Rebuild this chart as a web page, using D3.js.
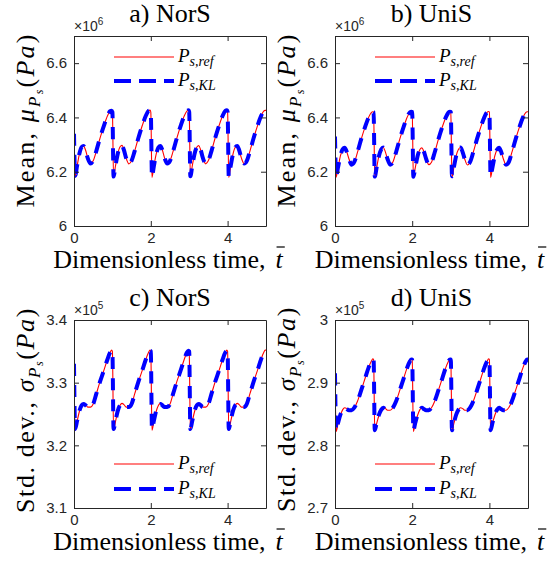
<!DOCTYPE html>
<html><head><meta charset="utf-8">
<script src="https://cdn.jsdelivr.net/npm/d3@7"></script>
<style>body{margin:0;background:#fff}</style>
</head><body>
<svg id="chart" width="556" height="565" style="font-family:'Liberation Serif'"></svg>
<script>
// ---------- data ----------
const timeValues = [
  0,0.03,0.08,0.14,0.2,0.25,0.3,0.36,0.43,0.5,0.58,0.68,0.78,0.87,0.94,0.98,
  1,1.03,1.08,1.14,1.2,1.25,1.3,1.36,1.43,1.5,1.58,1.68,1.78,1.87,1.94,1.98,
  2,2.03,2.08,2.14,2.2,2.25,2.3,2.36,2.43,2.5,2.58,2.68,2.78,2.87,2.94,2.98,
  3,3.03,3.08,3.14,3.2,3.25,3.3,3.36,3.43,3.5,3.58,3.68,3.78,3.87,3.94,3.98,
  4,4.03,4.08,4.14,4.2,4.25,4.3,4.36,4.43,4.5,4.58,4.68,4.78,4.87,4.94,4.98,
  5];

const refMeanNorS = [
  6.34,6.18,6.22,6.265,6.29,6.295,6.28,6.25,6.23,6.24,6.275,6.325,6.37,6.405,6.423,6.426,
  6.42,6.18,6.221,6.266,6.292,6.297,6.281,6.249,6.229,6.24,6.276,6.326,6.371,6.406,6.424,6.427,
  6.42,6.179,6.22,6.265,6.29,6.295,6.28,6.25,6.23,6.24,6.275,6.325,6.37,6.405,6.423,6.426,
  6.42,6.18,6.221,6.266,6.291,6.296,6.28,6.249,6.229,6.241,6.276,6.326,6.371,6.406,6.424,6.427,
  6.42,6.179,6.22,6.265,6.29,6.295,6.28,6.25,6.23,6.24,6.275,6.325,6.37,6.405,6.423,6.426,
  6.426];
const klMeanNorS = [
  6.34,6.185,6.222,6.266,6.291,6.295,6.279,6.249,6.23,6.241,6.276,6.326,6.37,6.405,6.423,6.425,
  6.42,6.182,6.222,6.266,6.292,6.296,6.28,6.249,6.23,6.241,6.276,6.326,6.371,6.406,6.424,6.426,
  6.42,6.181,6.221,6.265,6.29,6.295,6.28,6.25,6.23,6.24,6.275,6.325,6.37,6.405,6.423,6.426,
  6.42,6.183,6.222,6.266,6.291,6.296,6.28,6.249,6.23,6.241,6.276,6.326,6.371,6.406,6.424,6.426,
  6.42,6.184,6.221,6.265,6.29,6.295,6.28,6.25,6.23,6.24,6.275,6.325,6.37,6.405,6.423,6.425,
  6.425];

const refMeanUniS = [
  6.33,6.18,6.215,6.258,6.282,6.288,6.275,6.248,6.226,6.235,6.27,6.32,6.365,6.4,6.418,6.421,
  6.42,6.18,6.216,6.259,6.283,6.289,6.275,6.247,6.225,6.236,6.271,6.321,6.366,6.401,6.419,6.422,
  6.42,6.179,6.215,6.258,6.282,6.288,6.275,6.248,6.226,6.235,6.27,6.32,6.365,6.4,6.418,6.421,
  6.42,6.18,6.216,6.259,6.283,6.289,6.275,6.247,6.225,6.236,6.271,6.321,6.366,6.401,6.419,6.422,
  6.42,6.179,6.215,6.258,6.282,6.288,6.275,6.248,6.226,6.235,6.27,6.32,6.365,6.4,6.418,6.421,
  6.421];
const klMeanUniS = [
  6.33,6.184,6.217,6.259,6.283,6.288,6.275,6.248,6.226,6.236,6.271,6.321,6.365,6.4,6.418,6.421,
  6.42,6.182,6.217,6.259,6.283,6.289,6.275,6.247,6.226,6.236,6.271,6.321,6.366,6.401,6.419,6.421,
  6.42,6.181,6.216,6.258,6.282,6.288,6.275,6.248,6.226,6.235,6.27,6.32,6.365,6.4,6.418,6.421,
  6.42,6.183,6.217,6.259,6.283,6.289,6.275,6.247,6.226,6.236,6.271,6.321,6.366,6.401,6.419,6.421,
  6.42,6.184,6.216,6.258,6.282,6.288,6.275,6.248,6.226,6.235,6.27,6.32,6.365,6.4,6.418,6.42,
  6.42];

const refStdNorS = [
  3.33,3.224,3.238,3.254,3.264,3.267,3.265,3.261,3.261,3.266,3.282,3.302,3.32,3.337,3.348,3.352,
  3.35,3.224,3.238,3.254,3.264,3.267,3.265,3.261,3.261,3.266,3.282,3.302,3.32,3.337,3.348,3.352,
  3.35,3.224,3.238,3.254,3.264,3.267,3.265,3.261,3.261,3.266,3.282,3.302,3.32,3.337,3.348,3.352,
  3.35,3.224,3.238,3.254,3.264,3.267,3.265,3.261,3.261,3.266,3.282,3.302,3.32,3.337,3.348,3.352,
  3.35,3.224,3.238,3.254,3.264,3.267,3.265,3.261,3.261,3.266,3.282,3.302,3.32,3.337,3.348,3.352,
  3.352];
const klStdNorS = [
  3.33,3.226,3.239,3.255,3.264,3.266,3.264,3.261,3.261,3.266,3.282,3.302,3.32,3.337,3.348,3.351,
  3.35,3.226,3.239,3.255,3.264,3.266,3.264,3.261,3.261,3.266,3.282,3.302,3.32,3.337,3.348,3.351,
  3.35,3.226,3.239,3.255,3.264,3.266,3.264,3.261,3.261,3.266,3.282,3.302,3.32,3.337,3.348,3.351,
  3.35,3.226,3.239,3.255,3.264,3.266,3.264,3.261,3.261,3.266,3.282,3.302,3.32,3.337,3.348,3.351,
  3.35,3.226,3.239,3.255,3.264,3.266,3.264,3.261,3.261,3.266,3.282,3.302,3.32,3.337,3.348,3.351,
  3.351];

const refStdUniS = [
  2.915,2.822,2.835,2.848,2.857,2.86,2.859,2.856,2.856,2.86,2.87,2.888,2.907,2.924,2.934,2.938,
  2.937,2.822,2.835,2.848,2.857,2.86,2.859,2.856,2.856,2.86,2.87,2.888,2.907,2.924,2.934,2.938,
  2.937,2.822,2.835,2.848,2.857,2.86,2.859,2.856,2.856,2.86,2.87,2.888,2.907,2.924,2.934,2.938,
  2.937,2.822,2.835,2.848,2.857,2.86,2.859,2.856,2.856,2.86,2.87,2.888,2.907,2.924,2.934,2.938,
  2.937,2.822,2.835,2.848,2.857,2.86,2.859,2.856,2.856,2.86,2.87,2.888,2.907,2.924,2.934,2.938,
  2.938];
const klStdUniS = [
  2.915,2.824,2.836,2.849,2.857,2.86,2.858,2.856,2.856,2.86,2.87,2.888,2.907,2.924,2.934,2.937,
  2.937,2.824,2.836,2.849,2.857,2.86,2.858,2.856,2.856,2.86,2.87,2.888,2.907,2.924,2.934,2.937,
  2.937,2.824,2.836,2.849,2.857,2.86,2.858,2.856,2.856,2.86,2.87,2.888,2.907,2.924,2.934,2.937,
  2.937,2.824,2.836,2.849,2.857,2.86,2.858,2.856,2.856,2.86,2.87,2.888,2.907,2.924,2.934,2.937,
  2.937,2.824,2.836,2.849,2.857,2.86,2.858,2.856,2.856,2.86,2.87,2.888,2.907,2.924,2.934,2.937,
  2.937];

const xTicks = [0, 2, 4];
const yTicksMean = [6, 6.2, 6.4, 6.6];
const yTicksStdNorS = [3.1, 3.2, 3.3, 3.4];
const yTicksStdUniS = [2.7, 2.8, 2.9, 3];
const panelTitles = ["a) NorS", "b) UniS", "c) NorS", "d) UniS"];
const exponents = ["6", "6", "5", "5"];
const legendSubs = ["s,ref", "s,KL"];

// ---------- layout ----------
const SERIF_NAME = "Liberation Serif";
const SANS_NAME = "Liberation Sans";
const axisColor = "#262626";
const serifText = sel => sel.attr("font-family", SERIF_NAME).style("font-family", '"' + SERIF_NAME + '"');
const sansText = sel => sel.attr("font-family", SANS_NAME).style("font-family", '"' + SANS_NAME + '"');

const panels = [
  {box:[74,266,36,226], ydom:[6,6.7], yticks:yTicksMean, ref:refMeanNorS, kl:klMeanNorS,
   title:panelTitles[0], exp:exponents[0], ylab:"mean", legendTop:true, ylabCenter:120},
  {box:[335,528,36,226], ydom:[6,6.7], yticks:yTicksMean, ref:refMeanUniS, kl:klMeanUniS,
   title:panelTitles[1], exp:exponents[1], ylab:"mean", legendTop:true, ylabCenter:120},
  {box:[74,266,320,508], ydom:[3.1,3.4], yticks:yTicksStdNorS, ref:refStdNorS, kl:klStdNorS,
   title:panelTitles[2], exp:exponents[2], ylab:"std", legendTop:false, ylabCenter:410},
  {box:[335,528,320,508], ydom:[2.7,3.0], yticks:yTicksStdUniS, ref:refStdUniS, kl:klStdUniS,
   title:panelTitles[3], exp:exponents[3], ylab:"std", legendTop:false, ylabCenter:409}
];

const svg = d3.select("#chart");

panels.forEach((p, pi) => {
  const [L,R,T,B] = p.box;
  const x = d3.scaleLinear().domain([0,5]).range([L,R]);
  const y = d3.scaleLinear().domain(p.ydom).range([B,T]);

  // title
  svg.append("text").attr("x", (L+R)/2).attr("y", T-14).attr("text-anchor","middle")
    .call(serifText).style("font-size","26px").attr("fill","#000").text(p.title);

  // x label
  const xl = svg.append("text").attr("x", 0).attr("y", B+42)
    .call(serifText).style("font-size","26px").attr("fill","#000").text("Dimensionless time,");
  const wMain = xl.node().getComputedTextLength();
  const xt = svg.append("text").attr("x", 0).attr("y", B+42)
    .call(serifText).style("font-size","26px").style("font-style","italic")
    .attr("fill","#000").text("t");
  const wT = xt.node().getComputedTextLength();
  const gap = 10;
  const xStart = (L+R)/2 - 2 - (wMain + gap + wT)/2;
  xl.attr("x", xStart);
  xt.attr("x", xStart + wMain + gap);
  svg.append("line").attr("x1", xStart + wMain + gap + 1).attr("x2", xStart + wMain + gap + wT + 2)
    .attr("y1", B+21).attr("y2", B+21).attr("stroke","#000").attr("stroke-width",1.2);

  // y label
  const yl = svg.append("text").attr("transform",`translate(${L-40},${p.ylabCenter}) rotate(-90)`)
    .attr("text-anchor","middle").call(serifText).style("font-size","26px").attr("fill","#000");
  yl.append("tspan").text(p.ylab === "mean" ? "Mean, " : "Std. dev., ");
  yl.append("tspan").style("font-style","italic").text(p.ylab === "mean" ? "\u03bc" : "\u03c3");
  yl.append("tspan").style("font-style","italic").style("font-size","17px").attr("dy",6).text("P");
  yl.append("tspan").style("font-style","italic").style("font-size","12px").attr("dy",3).text("s");
  yl.append("tspan").style("font-size","26px").attr("dy",-9).text("(");
  yl.append("tspan").style("font-style","italic").text("Pa");
  yl.append("tspan").text(")");
  yl.attr("letter-spacing", p.ylab === "mean" ? "2.2px" : "1.6px");

  // exponent label
  const ex = svg.append("text").attr("x", L).attr("y", T-5)
    .call(sansText).style("font-size","14px").attr("fill", axisColor);
  ex.append("tspan").text("\u00d710");
  ex.append("tspan").style("font-size","10px").attr("dy", -6).text(p.exp);

  // lines
  const cid = "clip" + pi;
  svg.append("clipPath").attr("id", cid).append("rect")
    .attr("x", L).attr("y", T).attr("width", R-L).attr("height", B-T);
  const pts = s => timeValues.map((t,i)=>[t, s[i]]);
  const line = d3.line().x(d=>x(d[0])).y(d=>y(d[1])).curve(d3.curveMonotoneX);
  const lg = svg.append("g").attr("clip-path", `url(#${cid})`);
  lg.append("path").attr("d", line(pts(p.ref))).attr("fill","none")
    .attr("stroke","#ff0000").attr("stroke-width",1.1);
  lg.append("path").attr("d", line(pts(p.kl))).attr("fill","none")
    .attr("stroke","#0000ff").attr("stroke-width",4)
    .attr("stroke-dasharray","12,9");

  // axes (box, inner ticks)
  const axB = d3.axisBottom(x).tickValues(xTicks).tickSizeInner(-5).tickSizeOuter(0).tickPadding(6)
    .tickFormat(d=>String(d));
  const axT = d3.axisTop(x).tickValues(xTicks).tickSizeInner(-5).tickSizeOuter(0).tickFormat("");
  const axL = d3.axisLeft(y).tickValues(p.yticks).tickSizeInner(-5).tickSizeOuter(0).tickPadding(7)
    .tickFormat(d=>String(d));
  const axR = d3.axisRight(y).tickValues(p.yticks).tickSizeInner(-5).tickSizeOuter(0).tickFormat("");
  const styleAx = sel => {
    sel.attr("font-family", SANS_NAME).attr("font-size", 15);
    sel.select(".domain").attr("stroke", axisColor).attr("stroke-width",1);
    sel.selectAll(".tick line").attr("stroke", axisColor).attr("stroke-width",1);
    sel.selectAll(".tick text").attr("fill", axisColor).call(sansText).style("font-size","15px");
  };
  svg.append("g").attr("transform",`translate(0,${B})`).call(axB).call(styleAx);
  svg.append("g").attr("transform",`translate(0,${T})`).call(axT).call(styleAx);
  svg.append("g").attr("transform",`translate(${L},0)`).call(axL).call(styleAx);
  svg.append("g").attr("transform",`translate(${R},0)`).call(axR).call(styleAx);

  // legend
  const ly1 = p.legendTop ? T+21 : B-44;
  const ly2 = p.legendTop ? T+45 : B-19;
  const lx0 = L+40, lx1 = L+100;
  svg.append("line").attr("x1",lx0).attr("x2",lx1).attr("y1",ly1).attr("y2",ly1)
    .attr("stroke","#ff0000").attr("stroke-width",1.1);
  svg.append("line").attr("x1",lx0).attr("x2",lx1).attr("y1",ly2).attr("y2",ly2)
    .attr("stroke","#0000ff").attr("stroke-width",4).attr("stroke-dasharray","17,8");
  [ly1, ly2].forEach((ly, i) => {
    const t = svg.append("text").attr("x", lx1+4).attr("y", ly+5)
      .call(serifText).style("font-size","19px").style("font-style","italic").attr("fill","#000");
    t.append("tspan").text("P");
    t.append("tspan").style("font-size","14px").attr("dy",4).text(legendSubs[i]);
  });
});
</script>
</body></html>
